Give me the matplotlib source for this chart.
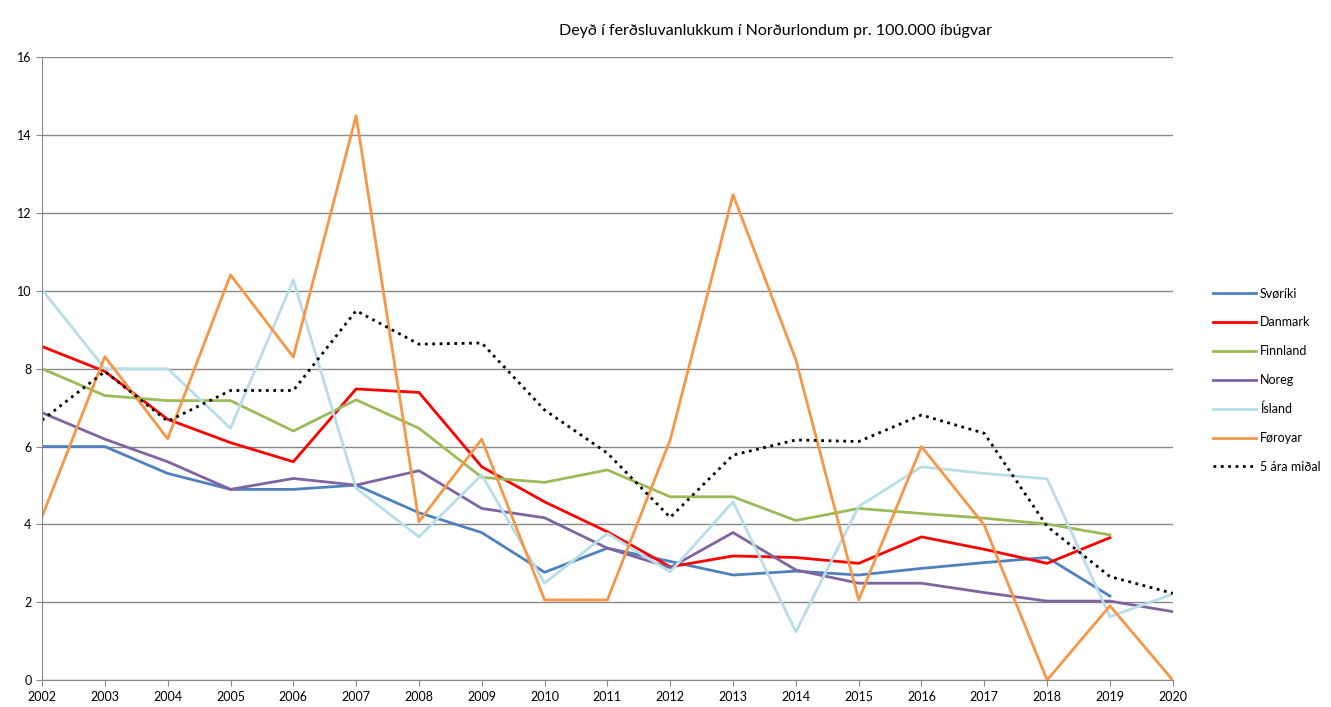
import numpy as np
import matplotlib
matplotlib.use('Agg')
import matplotlib.pyplot as plt

plt.rcParams['font.family'] = ['Lato', 'DejaVu Sans']

years = list(range(2002, 2021))

svoriki = [6.0, 6.0, 5.31, 4.9, 4.9, 5.01, 4.3, 3.79, 2.77, 3.39, 3.05, 2.7, 2.8,
           2.7, 2.87, 3.02, 3.15, 2.16, None]
danmark = [8.57, 7.93, 6.7, 6.1, 5.61, 7.48, 7.39, 5.48, 4.58, 3.81, 2.91, 3.19, 3.15,
           3.0, 3.68, 3.36, 3.0, 3.66, None]
finnland = [8.0, 7.31, 7.18, 7.18, 6.4, 7.2, 6.47, 5.21, 5.08, 5.4, 4.71, 4.71, 4.1,
            4.41, 4.28, 4.16, 4.01, 3.73, None]
noreg = [6.87, 6.19, 5.61, 4.9, 5.18, 5.01, 5.38, 4.41, 4.17, 3.39, 2.89, 3.79, 2.83,
         2.49, 2.49, 2.25, 2.03, 2.03, 1.76]
island = [10.03, 8.0, 8.0, 6.47, 10.28, 4.93, 3.68, 5.27, 2.49, 3.77, 2.78, 4.58, 1.24,
          4.46, 5.48, 5.31, 5.17, 1.63, 2.21]
foroyar = [4.2, 8.31, 6.2, 10.41, 8.3, 14.5, 4.07, 6.19, 2.06, 2.06, 6.17, 12.47, 8.23,
           2.06, 6.0, 3.98, 0.0, 1.91, 0.0]
midal = [6.68, 7.93, 6.65, 7.44, 7.44, 9.49, 8.63, 8.66, 6.94, 5.83, 4.18, 5.78, 6.17,
         6.13, 6.81, 6.34, 3.95, 2.66, 2.23]

series = [
    ('Svøríki', svoriki, '#4F81BD', '-'),
    ('Danmark', danmark, '#FF0000', '-'),
    ('Finnland', finnland, '#9BBB59', '-'),
    ('Noreg', noreg, '#8064A2', '-'),
    ('Ísland', island, '#B7DEE8', '-'),
    ('Føroyar', foroyar, '#F79646', '-'),
    ('5 ára miðal', midal, 'black', ':'),
]

fig = plt.figure(figsize=(13.31, 7.07), dpi=100)
ax = fig.add_axes([0.0316, 0.038, 0.8495, 0.881])

x = np.arange(len(years))
for name, vals, col, ls in series:
    y = np.array([np.nan if v is None else v for v in vals])
    ax.plot(x, y, color=col, linestyle=ls, linewidth=2.0, label=name)

ax.set_xlim(0, len(years) - 1)
ax.set_ylim(0, 16)
ax.set_yticks(range(0, 17, 2))
ax.set_xticks(x)
ax.set_xticklabels([str(yr) for yr in years])
ax.tick_params(axis='both', labelsize=9, color='#888888', length=4)
ax.tick_params(axis='x', pad=4)
ax.yaxis.grid(True, color='#888888', linewidth=1.0)
ax.set_axisbelow(True)
for s in ['top', 'right']:
    ax.spines[s].set_visible(False)
for s in ['left', 'bottom']:
    ax.spines[s].set_color('#888888')

ax.set_title('Deyð í ferðsluvanlukkum í Norðurlondum pr. 100.000 íbúgvar',
             fontsize=11.5, x=0.649, pad=16)

leg = ax.legend(loc='center left', bbox_to_anchor=(1.026, 0.4815), frameon=False,
                fontsize=9, handlelength=3.4, handletextpad=0.3, labelspacing=1.34)

plt.savefig('out.png', dpi=100)
